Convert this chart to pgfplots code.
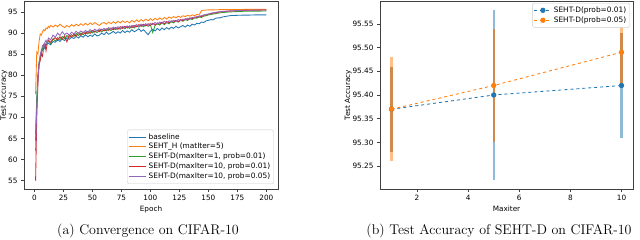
\documentclass[border=0pt]{standalone}
\usepackage{pgfplots}
\pgfplotsset{compat=1.18}
\usepackage{fontspec}
\newfontfamily\dejavu{DejaVu Sans}
\definecolor{tabblue}{HTML}{1F77B4}
\definecolor{taborange}{HTML}{FF7F0E}
\definecolor{tabgreen}{HTML}{2CA02C}
\definecolor{tabred}{HTML}{D62728}
\definecolor{tabpurple}{HTML}{9467BD}
\definecolor{lightblue}{HTML}{8FBBD9}
\definecolor{lightorange}{HTML}{FFBF86}
\definecolor{mixbar}{HTML}{D08A4C}
\pgfplotsset{
  mplstyle/.style={
    scale only axis,
    axis line style={black!75, line width=0.6pt},
    tick style={black!75, line width=0.5pt},
    tick align=outside,
    major tick length=3pt,
    xtick pos=bottom, ytick pos=left,
    tick label style={font=\dejavu\fontsize{7.3}{8}\selectfont},
    label style={font=\dejavu\fontsize{7.3}{8}\selectfont},
    legend style={font=\dejavu\fontsize{7.4}{8.4}\selectfont, draw=black!20, rounded corners=1.5pt, fill=white, inner sep=1.5pt, row sep=-1.2pt},
    legend cell align=left,
    /pgf/number format/assume math mode=true,
  },
}
\begin{document}
\begin{tikzpicture}
\path[use as bounding box] (0,0) rectangle (640pt,240pt);
\begin{axis}[mplstyle,
  at={(24pt,51pt)}, anchor=south west,
  width=254pt, height=188pt,
  xmin=-9, xmax=210, ymin=53, ymax=97.6,
  xtick={0,25,...,200}, ytick={55,60,...,95},
  xlabel={Epoch}, ylabel={Test Accuracy},
  xlabel style={yshift=2pt},
  ylabel style={at={(axis description cs:-0.079,0.5)}, anchor=center},
  legend style={at={(0.984,0.027)}, anchor=south east},
]
\addplot[color=tabblue, line width=0.85pt, no marks] coordinates {
(1,64.5)(2,74)(3,80)(4,83)(5,84.5)(6,85.5)(7,86)(8,86.8)(9,86.3)(10,87.2)(12,87.6)(14,87.2)(16,88)(18,87.8)(20,88.4)(22,88)(24,88.6)(26,88.2)(28,88.9)(30,88.5)(32,89)(34,88.7)(36,89.2)(38,88.8)(40,89.4)(42,89)(44,89.6)(46,89.1)(48,89.5)(50,89.2)(52,89.8)(54,89.3)(56,89.5)(58,90)(60,89.6)(62,90.2)(64,89.7)(66,90)(68,90.4)(70,89.9)(72,90.3)(74,90)(76,90.6)(78,90.1)(80,90.5)(82,90.2)(84,90.8)(86,90.3)(88,90.6)(90,91)(92,90.4)(94,90.8)(96,90.2)(98,89.6)(100,90.4)(102,90.9)(104,90.5)(106,91.1)(108,90.6)(110,91.2)(112,90.8)(114,91.3)(116,90.9)(118,91.4)(120,91.1)(122,91.6)(124,91.2)(126,91.5)(128,91.8)(130,91.4)(132,91.9)(134,91.6)(136,92.1)(138,91.9)(140,92.3)(142,92.2)(144,92.6)(146,92.5)(148,92.9)(150,93)(152,93.2)(154,93.1)(156,93.5)(158,93.6)(160,93.6)(162,93.8)(164,93.9)(166,94)(168,94.1)(170,94.15)(175,94.2)(180,94.25)(185,94.25)(190,94.3)(195,94.3)(200,94.3)};
\addlegendentry{baseline}
\addplot[color=taborange, line width=0.85pt, no marks] coordinates {
(1,75.5)(2,85.5)(3,85)(4,88)(5,89.8)(6,89.5)(7,90.3)(8,90.8)(9,90.5)(10,91.2)(11,91)(12,91.6)(13,91.3)(14,91.8)(16,91.4)(18,91.9)(20,91.5)(22,92.1)(24,91.6)(26,91.3)(28,91.8)(30,91.4)(32,92)(34,91.6)(36,92.1)(38,91.7)(40,92.2)(42,91.8)(44,92.3)(46,91.9)(48,92.4)(50,92)(52,92.5)(54,92.1)(56,91.8)(58,92.3)(60,92.5)(62,92.1)(64,92.6)(66,92.2)(68,92.7)(70,92.3)(72,92.8)(74,92.4)(76,92.9)(78,92.5)(80,92.8)(82,92.4)(84,93)(86,92.6)(88,93.1)(90,92.7)(92,93.2)(94,92.8)(96,93.3)(98,92.9)(100,93.4)(102,93)(104,93.5)(106,93.1)(108,93.6)(110,93.2)(112,93.7)(114,93.3)(116,93.8)(118,93.5)(120,93.9)(122,93.6)(124,94)(126,93.7)(128,94.1)(130,93.9)(132,94.2)(134,94)(136,94.3)(138,94.1)(140,94.4)(142,94.3)(144,95.3)(146,95.4)(148,95.45)(150,95.5)(155,95.5)(160,95.55)(170,95.55)(180,95.6)(190,95.6)(200,95.6)};
\addlegendentry{SEHT\_H (matIter=5)}
\addplot[color=tabgreen, line width=0.85pt, no marks] coordinates {
(1,66)(2,74.5)(3,79.5)(4,82.5)(5,84)(6,85.5)(7,86.5)(8,87.3)(9,86.8)(10,87.6)(12,88.2)(14,87.5)(16,88.6)(18,88.1)(20,88.9)(22,88.4)(24,89.2)(26,88.7)(28,89.4)(30,89)(32,89.6)(34,89.2)(36,89.9)(38,89.4)(40,90)(42,89.6)(44,90.2)(46,89.8)(48,90.4)(50,90)(52,90.5)(54,90.1)(56,90.7)(58,90.3)(60,90.8)(62,90.5)(64,91)(66,90.6)(68,91.1)(70,90.8)(72,91.2)(74,90.9)(76,91.4)(78,91)(80,91.5)(82,91.1)(84,91.6)(86,91.2)(88,91.7)(90,91.4)(92,91.9)(94,91.5)(96,92)(98,91.6)(100,91.9)(102,90.1)(104,91.8)(106,92.2)(108,91.9)(110,92.4)(112,92)(114,92.5)(116,92.2)(118,92.7)(120,92.4)(122,92.9)(124,92.6)(126,93)(128,92.8)(130,93.2)(132,93)(134,93.4)(136,93.2)(138,93.6)(140,93.5)(142,93.8)(144,93.7)(146,94)(148,94.1)(150,94.3)(152,94.4)(154,94.5)(156,94.6)(158,94.7)(160,94.8)(164,94.9)(168,95)(172,95.05)(176,95.1)(180,95.15)(185,95.2)(190,95.2)(195,95.2)(200,95.25)};
\addlegendentry{SEHT-D(maxIter=1, prob=0.01)}
\addplot[color=tabred, line width=0.85pt, no marks] coordinates {
(1,55)(2,70)(3,78)(4,82.5)(5,83.5)(6,85)(7,84.5)(8,86.8)(9,87.3)(10,85.8)(11,87.5)(12,88.3)(14,87.8)(16,88.5)(18,88.9)(20,88.3)(22,89.1)(24,88.6)(26,89.3)(28,87.9)(30,89.5)(32,89)(34,89.7)(36,89.3)(38,90)(40,89.5)(42,90.2)(44,89.8)(46,90.4)(48,89.9)(50,90.6)(52,90.2)(54,90.7)(56,90.3)(58,90.9)(60,90.5)(62,91)(64,90.6)(66,91.2)(68,90.8)(70,91.3)(72,90.9)(74,91.5)(76,91.1)(78,91.6)(80,91.2)(82,91.7)(84,91.3)(86,91.8)(88,91.5)(90,92)(92,91.6)(94,92.1)(96,91.7)(98,92.2)(100,91.8)(102,92.3)(104,91.9)(106,92.4)(108,92.1)(110,92.6)(112,92.2)(114,92.7)(116,92.4)(118,92.9)(120,92.6)(122,93)(124,92.7)(126,93.2)(128,92.9)(130,93.4)(132,93.1)(134,93.6)(136,93.4)(138,93.8)(140,93.7)(142,94)(144,93.9)(146,94.2)(148,94.3)(150,94.5)(152,94.6)(154,94.7)(156,94.8)(158,94.9)(160,95)(164,95.1)(168,95.2)(172,95.25)(176,95.3)(180,95.35)(185,95.4)(190,95.4)(195,95.45)(200,95.45)};
\addlegendentry{SEHT-D(maxIter=10, prob=0.01)}
\addplot[color=tabpurple, line width=0.85pt, no marks] coordinates {
(1,62)(2,72.5)(3,79)(4,83)(5,84.8)(6,86)(7,87)(8,86.5)(9,87.8)(10,88.3)(11,87.6)(12,88.8)(14,88.4)(16,89.5)(18,89)(20,90)(22,89.4)(24,90.3)(26,89.6)(28,90)(30,89.5)(32,90.2)(34,89.8)(36,90.4)(38,89.9)(40,90.5)(42,90.1)(44,90.6)(46,90.2)(48,90.8)(50,90.4)(52,90.9)(54,90.5)(56,91)(58,90.7)(60,91.1)(62,90.8)(64,91.3)(66,90.9)(68,91.4)(70,91)(72,91.5)(74,91.1)(76,91.6)(78,91.2)(80,91.7)(82,91.3)(84,91.8)(86,91.5)(88,92)(90,91.6)(92,92.1)(94,91.7)(96,92.2)(98,91.8)(100,92.3)(102,92)(104,92.5)(106,92.1)(108,92.6)(110,92.3)(112,92.8)(114,92.4)(116,92.9)(118,92.6)(120,93)(122,92.8)(124,93.2)(126,92.9)(128,93.3)(130,93.1)(132,93.5)(134,93.3)(136,93.7)(138,93.6)(140,93.9)(142,94)(144,94.1)(146,94.3)(148,94.4)(150,94.5)(152,94.7)(154,94.8)(156,94.9)(158,95)(160,95.05)(164,95.15)(168,95.25)(172,95.3)(176,95.35)(180,95.4)(185,95.4)(190,95.45)(195,95.45)(200,95.45)};
\addlegendentry{SEHT-D(maxIter=10, prob=0.05)}
\end{axis}
\begin{axis}[mplstyle,
  at={(380pt,51pt)}, anchor=south west,
  width=253pt, height=188pt,
  xmin=0.55, xmax=10.45, ymin=95.202, ymax=95.598,
  xtick={2,4,...,10}, ytick={95.25,95.30,...,95.56},
  yticklabel style={/pgf/number format/.cd, fixed, fixed zerofill, precision=2},
  xlabel={Maxiter}, ylabel={Test Accuracy},
  xlabel style={yshift=2pt},
  ylabel style={at={(axis description cs:-0.126,0.5)}, anchor=center},
  legend style={at={(0.988,0.989)}, anchor=north east},
]
% error bars (mean +- std), one vertical segment per point
\addplot[color=lightblue, line width=2.2pt, no marks, forget plot] coordinates {(1,95.28)(1,95.46)};
\addplot[color=lightblue, line width=2.2pt, no marks, forget plot] coordinates {(5,95.22)(5,95.58)};
\addplot[color=lightblue, line width=2.2pt, no marks, forget plot] coordinates {(10,95.31)(10,95.53)};
\addplot[color=lightorange, line width=2.2pt, no marks, forget plot] coordinates {(1,95.26)(1,95.48)};
\addplot[color=lightorange, line width=2.2pt, no marks, forget plot] coordinates {(5,95.30)(5,95.54)};
\addplot[color=lightorange, line width=2.2pt, no marks, forget plot] coordinates {(10,95.42)(10,95.56)};
\addplot[color=mixbar, line width=2.2pt, no marks, forget plot] coordinates {(1,95.28)(1,95.46)};
\addplot[color=mixbar, line width=2.2pt, no marks, forget plot] coordinates {(5,95.30)(5,95.54)};
\addplot[color=mixbar, line width=2.2pt, no marks, forget plot] coordinates {(10,95.42)(10,95.53)};
\addplot[color=tabblue, dashed, line width=0.85pt, mark=*, mark size=2.2pt, mark options={solid, fill=tabblue}]
  coordinates {(1,95.37)(5,95.40)(10,95.42)};
\addlegendentry{SEHT-D(prob=0.01)}
\addplot[color=taborange, dashed, line width=0.85pt, mark=*, mark size=2.2pt, mark options={solid, fill=taborange}]
  coordinates {(1,95.37)(5,95.42)(10,95.49)};
\addlegendentry{SEHT-D(prob=0.05)}
\end{axis}
\node[font=\fontsize{14}{16}\selectfont] at (148pt,9pt) {(a) Convergence on CIFAR-10};
\node[font=\fontsize{14}{16}\selectfont] at (499pt,9pt) {(b) Test Accuracy of SEHT-D on CIFAR-10};
\end{tikzpicture}
\end{document}
